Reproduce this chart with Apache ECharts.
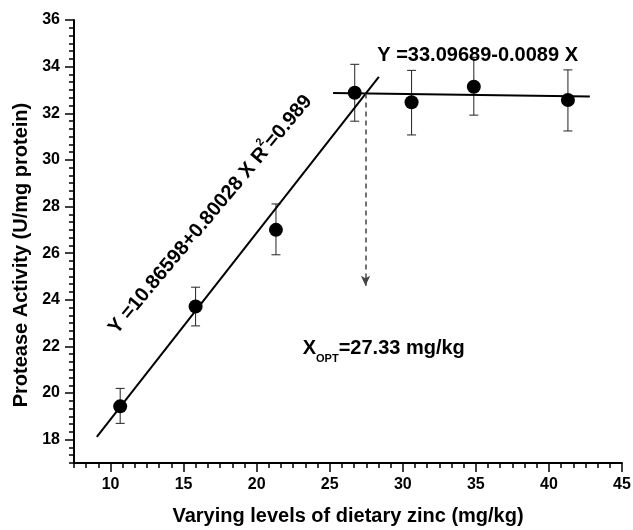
<!DOCTYPE html>
<html>
<head>
<meta charset="UTF-8">
<title>Protease activity vs dietary zinc</title>
<script src="https://cdn.jsdelivr.net/npm/echarts@6/dist/echarts.min.js"></script>
<style>html,body{margin:0;padding:0;background:#fff;}</style>
</head>
<body>
<div id="main" style="width:633px;height:530px;"></div>
<script type="text/javascript">
// values
var zincLevels   = [10.66, 15.82, 21.32, 26.71, 30.6, 34.86, 41.3];
var proteaseMean = [19.43, 23.71, 27.0, 32.88, 32.47, 33.14, 32.57];
var errLow       = [18.7, 22.88, 25.93, 31.66, 31.07, 31.92, 31.24];
var errHigh      = [20.2, 24.54, 28.11, 34.1, 33.84, 34.4, 33.86];

// fitted lines, end points as drawn
var fitRise    = [[9.06, 18.12], [28.36, 33.56]];
var fitPlateau = [[25.23, 32.87], [42.8, 32.72]];
// optimum marker: from the break point down to the arrow tip
var optArrow   = [[27.45, 32.85], [27.45, 24.6]];

var xTicks = [10, 15, 20, 25, 30, 35, 40, 45];
var yTicks = [18, 20, 22, 24, 26, 28, 30, 32, 34, 36];

var font = 'Liberation Sans, Arial, sans-serif';
var myChart = echarts.init(document.getElementById('main'));

var meanPoints = zincLevels.map(function (x, i) { return [x, proteaseMean[i]]; });
var errPoints  = zincLevels.map(function (x, i) { return [x, errLow[i], errHigh[i]]; });

function majorAxis(pos, min, max, ticks, extra) {
    var ax = {
        type: 'value', position: pos, min: min, max: max,
        axisLine: { show: false },
        splitLine: { show: false },
        axisTick: { show: true, length: 9, customValues: ticks, lineStyle: { color: '#000', width: 1.5 } },
        axisLabel: { customValues: ticks, margin: 14, color: '#000', fontSize: 16, fontWeight: 'bold', fontFamily: font }
    };
    for (var k in extra) ax[k] = extra[k];
    return ax;
}
function minorAxis(pos, min, max, step) {
    return {
        type: 'value', position: pos, offset: 0, min: min, max: max, interval: step,
        axisLine: { show: true, onZero: false, lineStyle: { color: '#000', width: 2 } },
        splitLine: { show: false },
        axisTick: { show: true, length: 5, lineStyle: { color: '#000', width: 1.5 } },
        axisLabel: { show: false }
    };
}

var option = {
    animation: false,
    backgroundColor: '#fff',
    grid: { left: 74, right: 11, top: 20, bottom: 67, outerBoundsMode: 'none' },
    xAxis: [
        majorAxis('bottom', 7.5, 45, xTicks, {
            name: 'Varying levels of dietary zinc (mg/kg)',
            nameLocation: 'middle', nameGap: 43,
            nameTextStyle: { color: '#000', fontSize: 20, fontWeight: 'bold', fontFamily: font }
        }),
        minorAxis('bottom', 7.5, 45, 5 / 6)
    ],
    yAxis: [
        majorAxis('left', 17, 36, yTicks, {}),
        minorAxis('left', 17, 36, 1 / 3)
    ],
    series: [
        {
            type: 'custom',
            data: errPoints,
            z: 2,
            renderItem: function (params, api) {
                var x = api.value(0);
                var lo = api.coord([x, api.value(1)]);
                var hi = api.coord([x, api.value(2)]);
                var hw = 4.5;
                var st = { stroke: '#222', lineWidth: 1 };
                return {
                    type: 'group',
                    children: [
                        { type: 'line', shape: { x1: lo[0], y1: lo[1], x2: hi[0], y2: hi[1] }, style: st },
                        { type: 'line', shape: { x1: lo[0] - hw, y1: lo[1], x2: lo[0] + hw, y2: lo[1] }, style: st },
                        { type: 'line', shape: { x1: hi[0] - hw, y1: hi[1], x2: hi[0] + hw, y2: hi[1] }, style: st }
                    ]
                };
            }
        },
        {
            type: 'line', data: fitRise, showSymbol: false, z: 3,
            lineStyle: { color: '#000', width: 2 }
        },
        {
            type: 'line', data: fitPlateau, showSymbol: false, z: 3,
            lineStyle: { color: '#000', width: 2 }
        },
        {
            type: 'line', data: [], z: 3,
            markLine: {
                silent: true, animation: false,
                symbol: ['none', 'arrow'], symbolSize: [7, 10],
                label: { show: false },
                lineStyle: { type: [5, 4], color: '#444', width: 1.5 },
                itemStyle: { color: '#222' },
                data: [[{ coord: optArrow[0] }, { coord: optArrow[1] }]]
            }
        },
        {
            type: 'scatter', data: meanPoints, z: 4,
            symbol: 'circle', symbolSize: 14,
            itemStyle: { color: '#000', opacity: 1 }
        }
    ]
};
myChart.setOption(option);

// annotations, anchored in data space
function px(pt) { return myChart.convertToPixel({ xAxisIndex: 0, yAxisIndex: 0 }, pt); }
var eq1 = px([16.84, 27.65]);
var eq2 = px([35.12, 34.49]);
var opt = px([23.15, 21.93]);

myChart.setOption({
    graphic: [
        {
            type: 'text', x: 21, y: 255, rotation: Math.PI / 2,
            style: { text: 'Protease Activity (U/mg protein)', align: 'center', verticalAlign: 'middle',
                     fill: '#000', fontSize: 20, fontWeight: 'bold', fontFamily: font }
        },
        {
            type: 'text', x: eq1[0], y: eq1[1], rotation: 50 * Math.PI / 180, z: 10,
            style: {
                text: '{b|Y =10.86598+0.80028 X R}{s|2}{b|=0.989}',
                align: 'center', verticalAlign: 'middle',
                rich: {
                    b: { fill: '#000', fontSize: 20, fontWeight: 'bold', fontFamily: font, lineHeight: 28 },
                    s: { fill: '#000', fontSize: 11, fontWeight: 'bold', fontFamily: font, lineHeight: 11, verticalAlign: 'top' }
                }
            }
        },
        {
            type: 'text', x: eq2[0], y: eq2[1], z: 10,
            style: { text: 'Y =33.09689-0.0089 X', align: 'center', verticalAlign: 'middle',
                     fill: '#000', fontSize: 20, fontWeight: 'bold', fontFamily: font }
        },
        {
            type: 'text', x: opt[0], y: opt[1], z: 10,
            style: {
                text: '{b|X}{s|OPT}{b|=27.33 mg/kg}',
                align: 'left', verticalAlign: 'middle',
                rich: {
                    b: { fill: '#000', fontSize: 20, fontWeight: 'bold', fontFamily: font, lineHeight: 32 },
                    s: { fill: '#000', fontSize: 11, fontWeight: 'bold', fontFamily: font, lineHeight: 11, verticalAlign: 'bottom' }
                }
            }
        }
    ]
});
</script>
</body>
</html>
